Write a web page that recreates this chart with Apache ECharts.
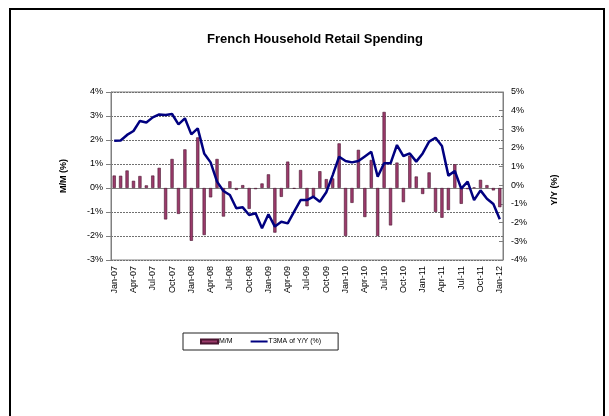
<!DOCTYPE html>
<html>
<head>
<meta charset="utf-8">
<script src="https://cdn.jsdelivr.net/npm/echarts@6/dist/echarts.min.js"></script>
<style>
  html, body { margin: 0; padding: 0; background: #fff; }
  #chart { width: 609px; height: 416px; }
</style>
</head>
<body>
<div id="chart"></div>
<script>
// Monthly categories, Jan-07 .. Jan-12
const months = [
  'Jan-07','Feb-07','Mar-07','Apr-07','May-07','Jun-07','Jul-07','Aug-07','Sep-07','Oct-07','Nov-07','Dec-07',
  'Jan-08','Feb-08','Mar-08','Apr-08','May-08','Jun-08','Jul-08','Aug-08','Sep-08','Oct-08','Nov-08','Dec-08',
  'Jan-09','Feb-09','Mar-09','Apr-09','May-09','Jun-09','Jul-09','Aug-09','Sep-09','Oct-09','Nov-09','Dec-09',
  'Jan-10','Feb-10','Mar-10','Apr-10','May-10','Jun-10','Jul-10','Aug-10','Sep-10','Oct-10','Nov-10','Dec-10',
  'Jan-11','Feb-11','Mar-11','Apr-11','May-11','Jun-11','Jul-11','Aug-11','Sep-11','Oct-11','Nov-11','Dec-11',
  'Jan-12'
];

// Month-on-month change (%), left axis
const mm = [
  0.52, 0.51, 0.73, 0.30, 0.50, 0.11, 0.52, 0.84, -1.31, 1.21, -1.08, 1.61,
  -2.20, 2.11, -1.96, -0.39, 1.21, -1.19, 0.28, -0.08, 0.12, -0.87, -0.05, 0.19,
  0.57, -1.86, -0.37, 1.10, -0.03, 0.75, -0.76, -0.35, 0.70, 0.37, 0.40, 1.86,
  -2.00, -0.62, 1.59, -1.21, 1.17, -2.00, 3.17, -1.56, 1.06, -0.59, 1.35, 0.48,
  -0.25, 0.65, -1.00, -1.24, -0.92, 0.99, -0.66, -0.05, 0.02, 0.34, 0.12, -0.10,
  -0.80
];

// Three-month moving average of year-on-year change (%), right axis
const t3ma = [
  2.39, 2.40, 2.70, 2.91, 3.45, 3.37, 3.64, 3.80, 3.77, 3.82, 3.27, 3.59,
  2.73, 3.05, 1.71, 1.23, 0.20, -0.30, -0.52, -1.23, -1.18, -1.59, -1.50, -2.30,
  -1.55, -2.21, -1.95, -2.04, -1.41, -0.79, -0.79, -0.61, -0.88, -0.37, 0.55, 1.53,
  1.30, 1.23, 1.30, 1.55, 1.80, 0.46, 1.18, 1.18, 2.16, 1.57, 1.71, 1.27,
  1.71, 2.34, 2.55, 2.11, 0.52, 0.77, -0.18, 0.20, -0.79, -0.27, -0.72, -1.00,
  -1.82
];

const FONT = '"Liberation Sans", Arial, sans-serif';

const chart = echarts.init(document.getElementById('chart'), null, { renderer: 'canvas' });

chart.setOption({
  animation: false,
  backgroundColor: '#ffffff',
  title: {
    text: 'French Household Retail Spending',
    left: 310,
    textAlign: 'center',
    top: 28,
    textStyle: { fontFamily: FONT, fontSize: 13, fontWeight: 'bold', color: '#000' }
  },
  legend: {
    left: 183,
    top: 333,
    padding: [5, 17, 5, 17],
    itemGap: 18,
    itemWidth: 17,
    itemHeight: 4,
    borderColor: '#222',
    borderWidth: 1,
    textStyle: { fontFamily: FONT, fontSize: 7, color: '#000', padding: [0, 0, 0, -4] },
    data: [
      { name: 'M/M', icon: 'rect' },
      { name: 'T3MA of Y/Y (%)', icon: 'path://M0,1H17V3H0Z' }
    ]
  },
  grid: {
    left: 111, right: 106, top: 92, bottom: 156,
    show: true, borderColor: '#808080', borderWidth: 1
  },
  xAxis: {
    type: 'category',
    data: months,
    boundaryGap: true,
    axisLine: { lineStyle: { color: '#808080' } },
    axisTick: { show: false },
    axisLabel: {
      interval: 2, rotate: 90, margin: 6,
      fontFamily: FONT, fontSize: 9, color: '#000'
    }
  },
  yAxis: [
    {
      type: 'value', min: -3, max: 4, interval: 1,
      name: 'M/M (%)', nameLocation: 'middle', nameGap: 43, nameRotate: 90,
      nameTextStyle: { fontFamily: FONT, fontSize: 9, fontWeight: 'bold', color: '#000' },
      axisLine: { show: true, lineStyle: { color: '#808080' } },
      axisTick: { show: true, length: 5, lineStyle: { color: '#808080' } },
      axisLabel: { formatter: '{value}%', margin: 8, fontFamily: FONT, fontSize: 9, color: '#000' },
      splitLine: { show: true, lineStyle: { color: '#707070', type: [2, 1], width: 1 } }
    },
    {
      type: 'value', min: -4, max: 5, interval: 1,
      position: 'right',
      axisLine: { show: true, lineStyle: { color: '#808080' } },
      axisTick: { show: true, inside: true, length: 4, lineStyle: { color: '#808080' } },
      axisLabel: { formatter: '{value}%', margin: 8, fontFamily: FONT, fontSize: 9, color: '#000' },
      splitLine: { show: false }
    }
  ],
  graphic: [
    {
      type: 'rect', silent: true, z: 100,
      shape: { x: 10, y: 9, width: 594, height: 430 },
      style: { fill: 'none', stroke: '#000', lineWidth: 2 }
    },
    {
      type: 'text', silent: true,
      x: 555, y: 190, rotation: Math.PI / 2,
      style: {
        text: 'Y/Y (%)', fontFamily: FONT, fontSize: 9, fontWeight: 'bold',
        fill: '#000', textAlign: 'center', textVerticalAlign: 'middle'
      }
    }
  ],
  series: [
    {
      name: 'M/M',
      type: 'bar',
      yAxisIndex: 0,
      data: mm,
      barWidth: '50%',
      itemStyle: { color: '#9b3b6b', borderColor: '#4a1530', borderWidth: 0.6 }
    },
    {
      name: 'T3MA of Y/Y (%)',
      type: 'line',
      yAxisIndex: 1,
      data: t3ma,
      symbol: 'none',
      lineStyle: { color: '#000080', width: 2.5 },
      itemStyle: { color: '#000080' },
      z: 3
    }
  ]
});
</script>
</body>
</html>
